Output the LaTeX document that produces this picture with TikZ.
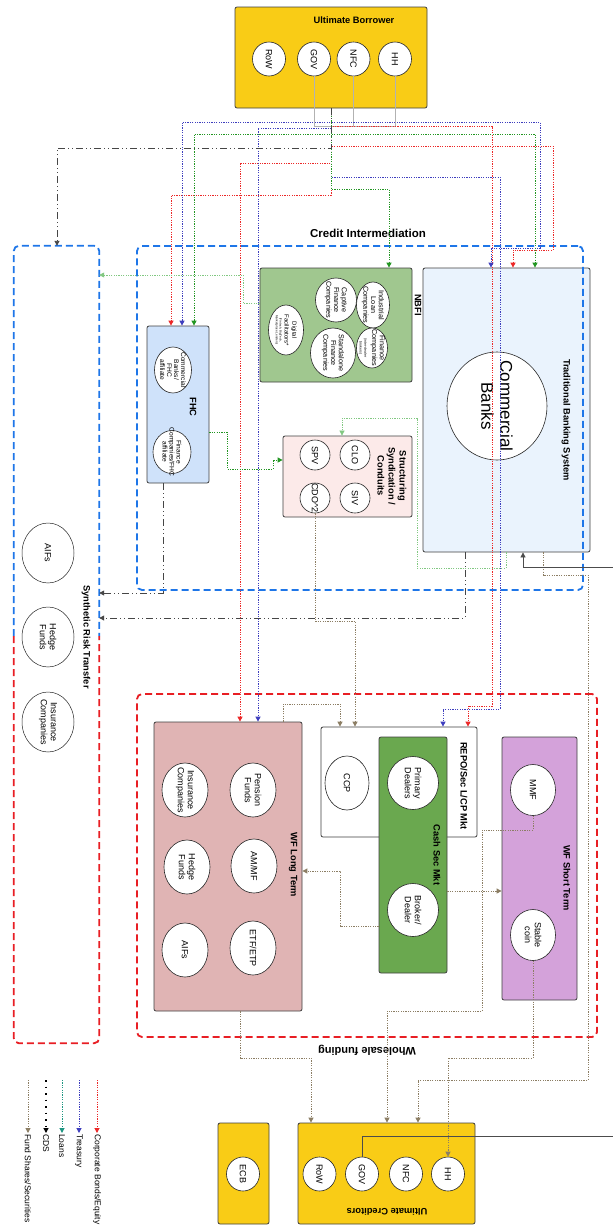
\documentclass[tikz,border=0pt]{standalone}
\usepackage{fontspec}
\setmainfont{Liberation Sans}
\usepackage{tikz}
\usetikzlibrary{arrows.meta,shapes.geometric}
\definecolor{ubyellow}{RGB}{249,204,22}
\definecolor{nbfigreen}{RGB}{160,199,143}
\definecolor{fhcblue}{RGB}{207,226,250}
\definecolor{strpink}{RGB}{252,234,233}
\definecolor{tbsblue}{RGB}{234,243,253}
\definecolor{ltrose}{RGB}{224,180,180}
\definecolor{cashgreen}{RGB}{106,168,79}
\definecolor{stlilac}{RGB}{212,162,218}
\definecolor{zoneblue}{RGB}{30,118,232}
\definecolor{zonered}{RGB}{232,30,36}
\definecolor{corpred}{RGB}{236,40,40}
\definecolor{treblue}{RGB}{62,62,190}
\definecolor{loangreen}{RGB}{34,150,34}
\definecolor{paleloan}{RGB}{130,200,130}
\definecolor{fundbrown}{RGB}{140,126,100}
\definecolor{cdsgray}{RGB}{70,70,70}
\definecolor{legteal}{RGB}{30,150,130}
\tikzset{
  box/.style={draw=black!75, line width=0.8pt, rounded corners=2pt},
  ent/.style={ellipse, draw=black!85, fill=white, line width=0.6pt, inner sep=0pt},
  sent/.style={ent, minimum width=33, minimum height=34},
  etxt/.style={rotate=-90, align=center, font=\fontsize{9}{10}\selectfont},
  ntxt/.style={etxt, font=\fontsize{7.2}{7.8}\selectfont},
  ttl/.style={align=center, font=\fontsize{9.3}{11}\selectfont\bfseries},
  vttl/.style={ttl, rotate=-90},
  lgtxt/.style={rotate=-90, anchor=west, inner sep=1pt, font=\fontsize{8.5}{10}\selectfont},
  zoneb/.style={draw=zoneblue, line width=1.8pt, dash pattern=on 7pt off 4pt, rounded corners=5pt},
  zoner/.style={draw=zonered, line width=1.8pt, dash pattern=on 7pt off 4pt, rounded corners=5pt},
  flow/.style={line width=1pt, dash pattern=on 1.2pt off 1.2pt, -{Triangle[width=5pt,length=5pt]}},
  corp/.style={flow, draw=corpred},
  tre/.style={flow, draw=treblue},
  loan/.style={flow, draw=loangreen},
  pale/.style={flow, draw=paleloan, line width=0.7pt},
  fund/.style={flow, draw=fundbrown, line width=0.9pt},
  cds/.style={draw=cdsgray, line width=0.9pt, dash pattern=on 7pt off 3pt on 1pt off 3pt on 1pt off 3pt, -{Triangle[width=5pt,length=5pt]}},
  gov/.style={draw=black!70, line width=0.8pt, -{Triangle[width=5pt,length=5pt]}},
  tie/.style={draw=black!30, line width=0.6pt}
}

\begin{document}
\begin{tikzpicture}[x=1pt, y=-1pt]
  \fill[white] (0,0) rectangle (613,1229);
  \useasboundingbox (0,0) rectangle (613,1229);

  % Ultimate Borrower
  \node[box, fill=ubyellow, minimum width=192, minimum height=101] (ub) at (331,57.5) {};
  \node[ttl] (ubt) at (354,20) {Ultimate Borrower};
  \node[sent, label={[etxt]center:RoW}] (brow) at (269,59) {};
  \node[sent, label={[etxt]center:GOV}] (bgov) at (314,59) {};
  \node[sent, label={[etxt]center:NFC}] (bnfc) at (353.5,59) {};
  \node[sent, label={[etxt]center:HH}] (bhh) at (395,59) {};
  \coordinate (bus) at (ub.south);

  % Synthetic Risk Transfer
  \node[minimum width=85, minimum height=797] (srt) at (56.5,644.5) {};
  \node[vttl] (srtt) at (86,637) {Synthetic Risk Transfer};
  \node[ent, line width=0.5pt, minimum width=52, minimum height=60, label={[etxt]center:AIFs}] (saif) at (48,553) {};
  \node[ent, line width=0.5pt, minimum width=52, minimum height=60, label={[etxt]center:Hedge\\Funds}] (shf) at (48,637) {};
  \node[ent, line width=0.5pt, minimum width=52, minimum height=60, label={[etxt]center:Insurance\\Companies}] (sic) at (48,722) {};

  % NBFI
  \node[box, fill=nbfigreen, minimum width=152, minimum height=114] (nbfi) at (336,325) {};
  \node[vttl] (nbfit) at (418,305) {NBFI};
  \node[ent, minimum width=41, minimum height=44, label={[ntxt]center:Captive\\Finance\\Companies}] (cfc) at (336,300) {};
  \node[ent, minimum width=33, minimum height=46, label={[ntxt]center:Industrial\\Loan\\Companies}] (ilc) at (373,305) {};
  \node[ent, minimum width=45, minimum height=50, label={[ntxt]center:Standalone\\Finance\\Companies}] (sfc) at (333,353) {};
  \node[ent, minimum width=31, minimum height=40, label={[ntxt]center:{Finance\\Companies\\{\fontsize{3.5}{4}\selectfont (inter-dealer}\\[-3pt]{\fontsize{3.5}{4}\selectfont brokers)}}}] (fco) at (372,348) {};
  \node[ent, minimum width=35, minimum height=50, label={[ntxt]center:{{\fontsize{6}{6.5}\selectfont Digital}\\{\fontsize{6}{6.5}\selectfont Facilitators*}\\[-3pt]{\fontsize{3}{3.5}\selectfont (Fintech, BigTech,}\\[-4pt]{\fontsize{3}{3.5}\selectfont Marketplace Lenders)}}}] (dfa) at (286,330) {};

  % FHC
  \node[box, fill=fhcblue, minimum width=62, minimum height=157] (fhc) at (178,404.5) {};
  \node[vttl] (fhct) at (193,407) {FHC};
  \node[ent, minimum width=37, minimum height=46, label={[ntxt, font=\fontsize{6.6}{7}\selectfont]center:Commercial\\Banks/\\FHC\\affiliate}] (cbf) at (173,370) {};
  \node[ent, minimum width=38, minimum height=43, label={[ntxt, font=\fontsize{6.6}{7}\selectfont]center:Finance\\Companies/FHC\\affiliate}] (fcf) at (172,452) {};

  % Structuring
  \node[box, fill=strpink, minimum width=129, minimum height=81] (str) at (347.5,476.5) {};
  \node[vttl] (strt) at (392,476) {Structuring\\Syndication /\\Conduits};
  \node[sent, minimum width=30, minimum height=30, label={[etxt]center:CLO}] (clo) at (355,455) {};
  \node[sent, minimum width=30, minimum height=30, label={[etxt]center:SPV}] (spv) at (315,455) {};
  \node[sent, minimum width=30, minimum height=30, label={[etxt]center:SIV}] (siv) at (355,498) {};
  \node[sent, minimum width=30, minimum height=30, label={[etxt]center:CDO\textasciicircum2}] (cdo) at (315,498) {};

  % Traditional Banking System
  \node[box, fill=tbsblue, minimum width=167, minimum height=284] (tbs) at (506.5,410) {};
  \node[vttl] (tbst) at (566,420) {Traditional Banking System};
  \node[ent, minimum width=100, minimum height=108, label={[etxt, font=\fontsize{17}{19}\selectfont]center:Commercial\\Banks}] (cbk) at (497,406) {};

  % WF Long Term
  \node[box, fill=ltrose, minimum width=148, minimum height=289] (wflt) at (228,866.5) {};
  \node[vttl] (wfltt) at (293,865) {WF Long Term};
  \node[ent, minimum width=46, minimum height=54, label={[etxt]center:Pension\\Funds}] (pen) at (253,790) {};
  \node[ent, minimum width=46, minimum height=54, label={[etxt]center:Insurance\\Companies}] (ins) at (185,790) {};
  \node[ent, minimum width=46, minimum height=54, label={[etxt]center:AM/MF}] (amf) at (254,866) {};
  \node[ent, minimum width=46, minimum height=54, label={[etxt]center:Hedge\\Funds}] (hfd) at (187,867) {};
  \node[ent, minimum width=46, minimum height=54, label={[etxt]center:ETF/ETP}] (etf) at (253,948) {};
  \node[ent, minimum width=46, minimum height=54, label={[etxt]center:AIFs}] (aif) at (185,950) {};

  % REPO and cash securities
  \node[box, fill=white, minimum width=156, minimum height=110] (repo) at (399,782) {};
  \node[vttl] (repot) at (464,786) {REPO/Sec L/CP Mkt};
  \node[ent, minimum width=44, minimum height=54, label={[etxt]center:CCP}] (ccp) at (347,783) {};
  \node[box, fill=cashgreen, minimum width=68, minimum height=236] (csm) at (413,855) {};
  \node[vttl] (csmt) at (437,855) {Cash Sec Mkt};
  \node[ent, minimum width=51, minimum height=53, label={[etxt]center:Primary\\Dealers}] (pdl) at (413,783) {};
  \node[ent, minimum width=51, minimum height=53, label={[etxt]center:Broker/\\Dealer}] (bdl) at (413,910) {};

  % WF Short Term
  \node[box, fill=stlilac, minimum width=75, minimum height=263] (wfst) at (539.5,868.5) {};
  \node[vttl] (wfstt) at (567,878) {WF Short Term};
  \node[ent, minimum width=45, minimum height=51, label={[etxt]center:MMF}] (mmf) at (533,790) {};
  \node[ent, minimum width=45, minimum height=51, label={[etxt]center:Stable\\coin}] (stc) at (533,935) {};

  % Ultimate Creditors
  \node[box, fill=ubyellow, minimum width=51, minimum height=101] (ecb) at (243.5,1173.5) {};
  \node[sent, label={[etxt]center:ECB}] (cecb) at (243,1174) {};
  \node[box, fill=ubyellow, minimum width=177, minimum height=101] (uc) at (386.5,1173.5) {};
  \node[ttl, rotate=180] (uct) at (387,1212) {Ultimate Creditors};
  \node[sent, label={[etxt]center:RoW}] (crow) at (319.5,1174) {};
  \node[sent, label={[etxt]center:GOV}] (cgov) at (362,1174) {};
  \node[sent, label={[etxt]center:NFC}] (cnfc) at (406,1174) {};
  \node[sent, label={[etxt]center:HH}] (chh) at (448,1174) {};

  % zones
  \node[zoneb, minimum width=446, minimum height=344] (ci) at (360,418) {};
  \node[ttl, font=\fontsize{11.5}{13}\selectfont\bfseries] (cit) at (368,233) {Credit Intermediation};
  \node[zoner, minimum width=460, minimum height=343] (wf) at (367,865.5) {};
  \node[ttl, font=\fontsize{11}{13}\selectfont\bfseries, rotate=180] (wft) at (367,1050) {Wholesale funding};
  \draw[zoneb] (srt.west |- 0,636) -- (srt.north west) -- (srt.north east) -- (srt.east |- 0,636);
  \draw[zoner] (srt.west |- 0,636) -- (srt.south west) -- (srt.south east) -- (srt.east |- 0,636);

  % borrower ties
  \draw[tie] (bgov.south) |- (395,126) -- (bhh.south);
  \draw[tie] (bnfc.south) -- (353.5,126);

  % flows out of the borrower
  \draw[corp] (bus) |- (492,126) -- (492,706) -| (468,0 |- repo.north);
  \draw[corp] (bus) |- (553,146) |- (513,250) -- (513,0 |- tbs.north);
  \draw[corp] (bus) |- (240,163) -- (240,0 |- wflt.north);
  \draw[corp] (bus) |- (171,195) -- (171,0 |- fhc.north);
  \draw[tre] (bus) |- (182,122) -- (182,0 |- fhc.north);
  \draw[tre] (bus) |- (540,122) |- (491,248) -- (491,0 |- tbs.north);
  \draw[tre] (bus) |- (258,128) -- (258,0 |- wflt.north);
  \draw[tre] (bus) |- (500,177) -- (500,709) -| (443,0 |- repo.north);
  \draw[loan] (bus) |- (194,134) -- (194,0 |- fhc.north);
  \draw[loan] (bus) |- (535,134) -- (535,0 |- tbs.north);
  \draw[loan] (bus) |- (389,189) -- (389,0 |- nbfi.north);
  \draw[cds] (bus) |- (57,148) -- (57,0 |- srt.north);

  % credit intermediation flows
  \draw[pale] (nbfi.west |- 0,303) -| (243,275) -- (srt.east |- 0,275);
  \draw[loan] (fhc.east |- 0,432) -| (227,469) -| (273,460) -- (str.west |- 0,460);
  \draw[pale] (506,0 |- tbs.south) |- (417,568) |- (342,418) -- (342,0 |- str.north);
  \draw[cds] (163,0 |- fhc.south) |- (srt.east |- 0,593);
  \draw[cds] (465,0 |- tbs.south) |- (srt.east |- 0,618);

  % fund shares
  \draw[fund] (cdo.south) |- (355,621) -- (355,0 |- repo.north);
  \draw[fund] (283,0 |- wflt.north) |- (340,704) -- (340,0 |- repo.north);
  \draw[fund] (csm.west |- 0,926) -| (340,871) -- (wflt.east |- 0,871);
  \draw[fund] (csm.east |- 0,891) -- (wfst.west |- 0,891);
  \draw[fund] (mmf.south) |- (482,830) |- (387,1011) -- (387,0 |- uc.north);
  \draw[fund] (stc.south) |- (448,1058) -- (chh.north);
  \draw[fund] (240,0 |- wflt.south) |- (311,1058) -- (311,0 |- uc.north);
  \draw[fund] (543,0 |- tbs.south) |- (588,575) |- (418,1080) -- (418,0 |- uc.north);
  \draw[gov] (cgov.north) |- (625,1136) |- (523,567) -- (523,0 |- tbs.south);

  % legend
  \node[lgtxt] (lgcorp) at (97,1133) {Corporate Bonds/Equity};
  \node[lgtxt] (lgtre) at (79,1133) {Treasury};
  \node[lgtxt] (lgloan) at (62,1133) {Loans};
  \node[lgtxt] (lgcds) at (46,1133) {CDS};
  \node[lgtxt] (lgfund) at (28,1133) {Fund Shares/Securities};
  \draw[corp] (97,1080) -- (lgcorp.west);
  \draw[tre] (79,1080) -- (lgtre.west);
  \draw[flow, draw=legteal] (62,1080) -- (lgloan.west);
  \draw[flow, draw=black, dash pattern=on 1.5pt off 5pt, line width=1.2pt] (46,1080) -- (lgcds.west);
  \draw[fund] (28,1080) -- (lgfund.west);
\end{tikzpicture}
\end{document}
